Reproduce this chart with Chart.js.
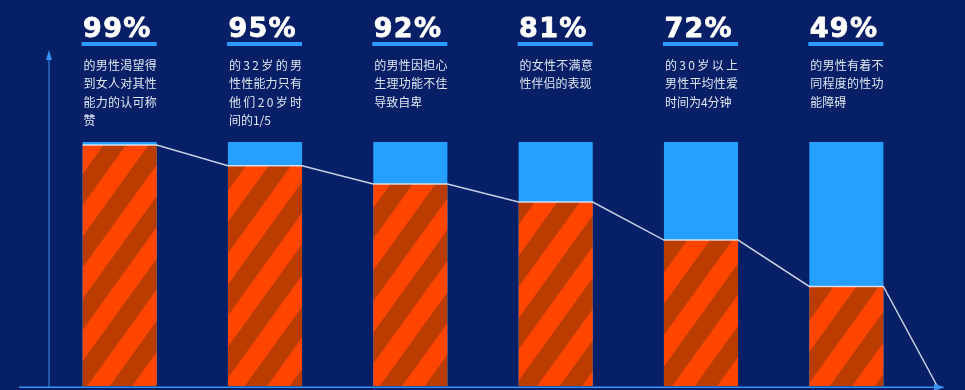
<!DOCTYPE html>
<html><head><meta charset="utf-8">
<script src="https://cdn.jsdelivr.net/npm/chart.js@4/dist/chart.umd.min.js"></script>
<style>html,body{margin:0;padding:0;background:#061f66;overflow:hidden}#wrap{width:965px;height:390px;position:relative}</style>
</head><body><div id="wrap"><canvas id="c" width="965" height="390"></canvas></div>
<script>
// ---- data ----
const categories = ['男性渴望认可', '32岁男性性能力', '担心生理功能', '女性不满意', '30岁以上男性', '性功能障碍'];
const percentLabels = ['99%', '95%', '92%', '81%', '72%', '49%'];
const descLines = [
  ['的男性渴望得', '到女人对其性', '能力的认可称', '赞'],
  ['的32岁的男', '性性能力只有', '他们20岁时', '间的1/5'],
  ['的男性因担心', '生理功能不佳', '导致自卑'],
  ['的女性不满意', '性伴侣的表现'],
  ['的30岁以上', '男性平均性爱', '时间为4分钟'],
  ['的男性有着不', '同程度的性功', '能障碍']
];
const barValues = [98.8, 90.3, 82.8, 75.4, 59.8, 40.8];
const fullValues = [100, 100, 100, 100, 100, 100];
const lineEndValue = 0;

// ---- styles ----
const BG = '#061f66';
const BLUE = '#26a0ff';
const ORANGE = '#ff4500';
const DARK = '#ba3c00';
const AXIS = '#3a93f2';
const barFrac = 0.51;
const tailExtra = 0.125; // how far past the last category the line runs (category units)

function makeStripes() {
  const period = 45;
  const pc = document.createElement('canvas');
  pc.width = period; pc.height = period;
  const g = pc.getContext('2d');
  g.fillStyle = ORANGE; g.fillRect(0, 0, period, period);
  g.fillStyle = DARK; g.fillRect(0, 0, period / 2, period);
  const pat = g.createPattern(pc, 'repeat');
  pat.setTransform(new DOMMatrix().translate(-16.9, 0).skewX(-35.8));
  return pat;
}
const stripes = makeStripes();

const linePoints = [];
barValues.forEach((v, i) => {
  linePoints.push({x: i - barFrac / 2, y: v});
  linePoints.push({x: i + barFrac / 2, y: v});
});
linePoints.push({x: categories.length - 0.5 + tailExtra, y: lineEndValue});

const decor = {
  id: 'decor',
  beforeDraw(chart) {
    const c = chart.ctx;
    c.save(); c.fillStyle = BG; c.fillRect(0, 0, chart.width, chart.height); c.restore();
  },
  afterDatasetsDraw(chart) {
    const c = chart.ctx;
    const a = chart.chartArea;
    const yb = chart.scales.y.getPixelForValue(0);
    c.save();
    // vertical axis
    const vx = a.left + 2;
    c.strokeStyle = AXIS; c.fillStyle = AXIS; c.lineWidth = 1;
    c.beginPath(); c.moveTo(vx, 57); c.lineTo(vx, yb + 1); c.stroke();
    c.beginPath(); c.moveTo(vx, 50); c.lineTo(vx - 3, 60); c.lineTo(vx + 3, 60); c.closePath(); c.fill();
    // horizontal axis
    c.lineWidth = 1.6;
    c.beginPath(); c.moveTo(19, yb + 1.2); c.lineTo(936, yb + 1.2); c.stroke();
    c.beginPath(); c.moveTo(945, yb + 1.2); c.lineTo(934, yb - 2.3); c.lineTo(934, yb + 4.7); c.closePath(); c.fill();

    // labels
    const meta = chart.getDatasetMeta(1);
    meta.data.forEach((bar, i) => {
      const left = bar.x - bar.width / 2;
      const w = bar.width;
      c.save();
      c.fillStyle = '#ffffff'; c.strokeStyle = '#ffffff'; c.lineWidth = 0.8; c.lineJoin = 'round';
      c.font = 'bold 27px "DejaVu Sans"';
      try { c.letterSpacing = '1.3px'; } catch (e) {}
      c.textAlign = 'left'; c.textBaseline = 'alphabetic';
      c.fillText(percentLabels[i], left + 0.5, 37);
      c.strokeText(percentLabels[i], left + 0.5, 37);
      c.restore();
      c.fillStyle = '#2b9bff';
      c.fillRect(left - 1, 42, w + 1, 4);
      c.fillStyle = '#dfe6f3';
      c.font = '12px "Noto Sans CJK SC"';
      c.textAlign = 'left';
      c.textBaseline = 'middle';
      const lines = descLines[i];
      lines.forEach((ln, k) => {
        const y = 65 + k * 18.5;
        const chars = Array.from(ln);
        if (k < lines.length - 1 && chars.length > 1) {
          const widths = chars.map(ch => c.measureText(ch).width);
          const tot = widths.reduce((s, x) => s + x, 0);
          const gap = (w - 1 - tot) / (chars.length - 1);
          let x = left + 1;
          chars.forEach((ch, j) => { c.fillText(ch, x, y); x += widths[j] + gap; });
        } else {
          c.fillText(ln, left + 1, y);
        }
      });
    });
    c.restore();
  }
};

new Chart(document.getElementById('c'), {
  data: {
    labels: categories,
    datasets: [
      {type: 'line', xAxisID: 'x2', data: linePoints, borderColor: 'rgba(235,240,252,0.85)', borderWidth: 1.5,
       pointRadius: 0, tension: 0, clip: false, order: 0},
      {type: 'bar', data: barValues, backgroundColor: stripes, grouped: false,
       barPercentage: barFrac, categoryPercentage: 1, order: 1},
      {type: 'bar', data: fullValues, backgroundColor: BLUE, grouped: false,
       barPercentage: barFrac, categoryPercentage: 1, order: 2}
    ]
  },
  options: {
    responsive: false,
    devicePixelRatio: 1,
    animation: false,
    layout: {padding: {left: 47, right: 46, top: 142, bottom: 4}},
    plugins: {legend: {display: false}, tooltip: {enabled: false}},
    scales: {
      x: {display: false, offset: true},
      x2: {type: 'linear', display: false, min: -0.5, max: categories.length - 0.5},
      y: {display: false, min: 0, max: 100}
    }
  },
  plugins: [decor]
});
</script>
</body></html>
